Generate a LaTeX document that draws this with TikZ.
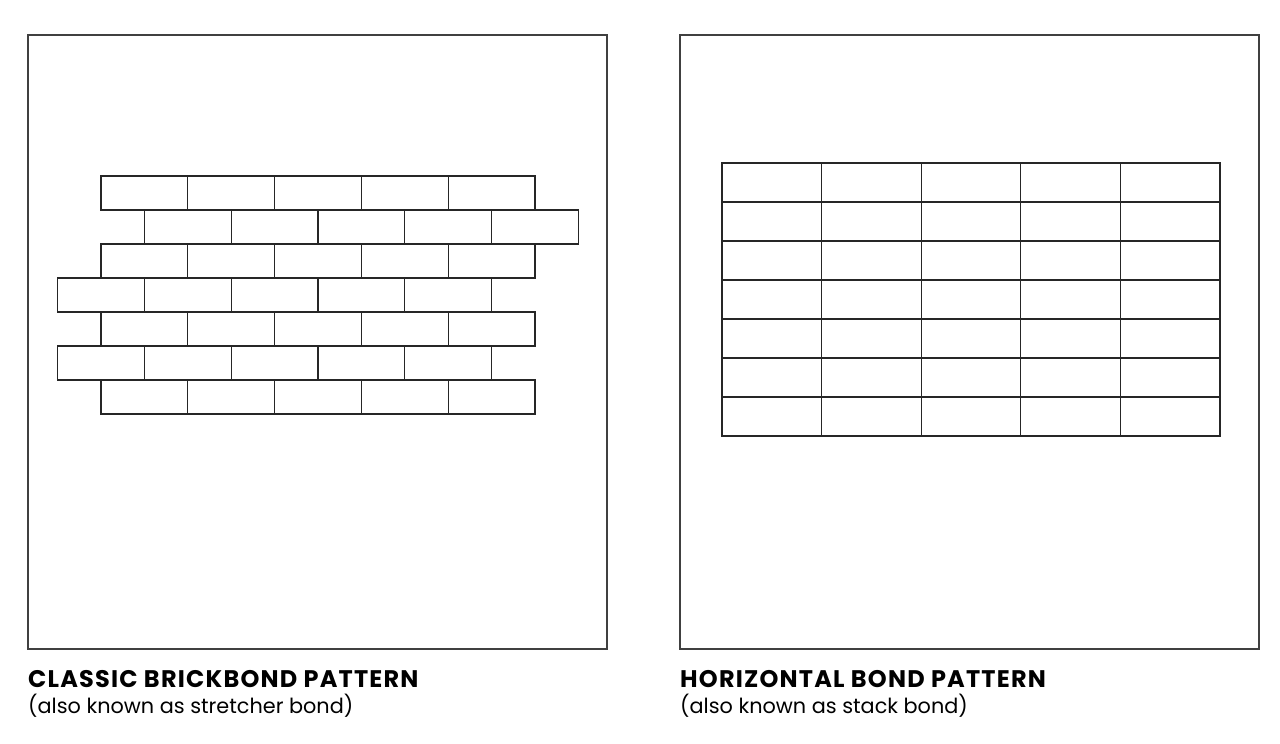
\documentclass[tikz,border=0pt]{standalone}
\usepackage{fontspec}
\setmainfont{Poppins}
\newfontfamily\headfont[LetterSpace=5]{Poppins}
\begin{document}
\begin{tikzpicture}[x=1pt,y=-1pt,
  frame/.style={draw=black!75,line width=1.1pt},
  brick/.style={draw=black!85,line width=1.3pt},
  title/.style={anchor=base west,inner sep=0pt,font=\headfont\fontsize{24}{26}\selectfont\bfseries},
  subtitle/.style={anchor=base west,inner sep=0pt,font=\fontsize{20.8}{24}\selectfont}]
			%%%%% START %%%%%
			\useasboundingbox[fill=white] (0,0) rectangle (1280,744);
			
			\draw[frame] (28,35) rectangle (607,649);
			\draw[frame] (680,35) rectangle (1259,649);
			
			% stretcher bond
			\foreach \r/\s in {0/0,1/1,2/0,3/-1,4/0,5/-1,6/0}{
				\foreach \c in {0,...,4}{
					\draw[brick] ({101+\s*43.4+\c*86.8},{176+\r*34}) rectangle ++(86.8,34);
				}
			}
			
			% stack bond
			\foreach \r in {0,...,6}{
				\foreach \c in {0,...,4}{
					\draw[brick] ({722+\c*99.6},{163+\r*39}) rectangle ++(99.6,39);
				}
			}
			
			\node[title] (t1) at (28,687) {CLASSIC BRICKBOND PATTERN};
			\node[subtitle] (s1) at (28,713) {(also known as stretcher bond)};
			\node[title] (t2) at (680,687) {HORIZONTAL BOND PATTERN};
			\node[subtitle] (s2) at (680,713) {(also known as stack bond)};
			%%%%% END %%%%%
\end{tikzpicture}
\end{document}
